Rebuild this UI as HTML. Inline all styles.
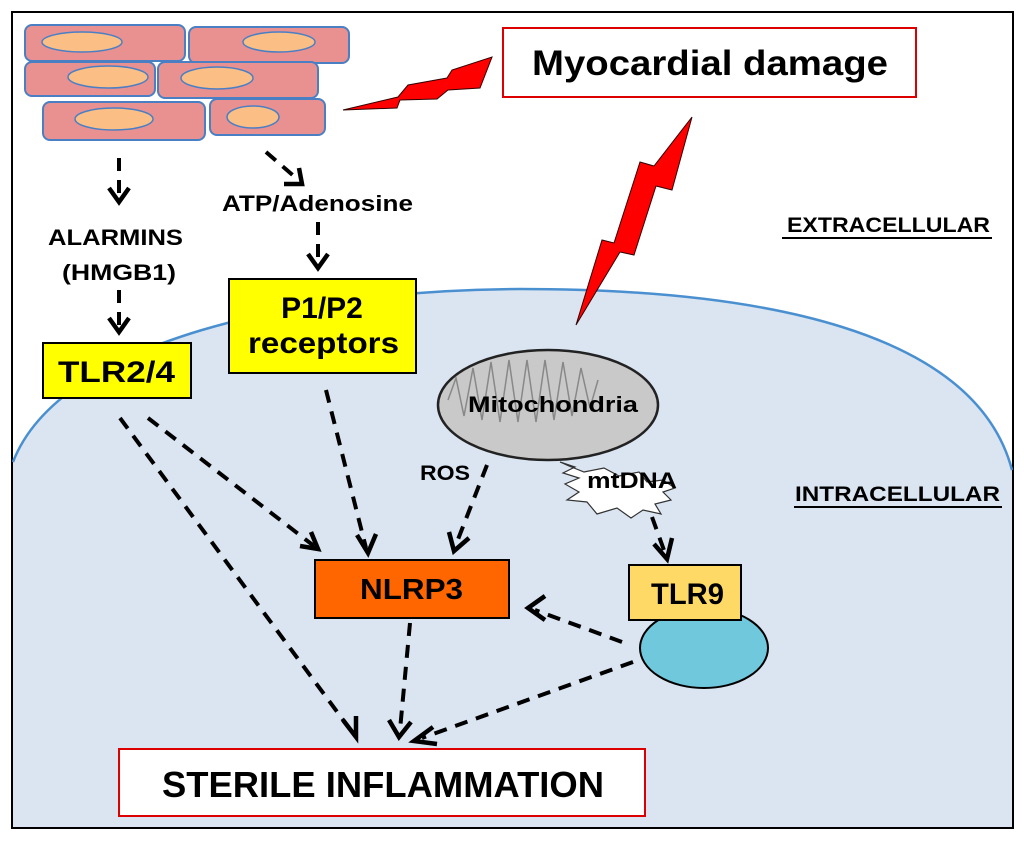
<!DOCTYPE html>
<html><head><meta charset="utf-8"><style>
body{margin:0;background:#fff;}
svg text{font-family:"Liberation Sans",sans-serif;font-weight:bold;}
</style></head><body>
<svg width="1024" height="840" viewBox="0 0 1024 840" xmlns="http://www.w3.org/2000/svg">
<rect x="12" y="12" width="1001" height="816" fill="#fff" stroke="#000" stroke-width="2"/>
<path d="M13,462 C60,340 300,290 520,289 C760,289 975,330 1012,470 L1012,827 L13,827 Z" fill="#dae5f1"/>
<path d="M13,462 C60,340 300,290 520,289 C760,289 975,330 1012,470" fill="none" stroke="#4a90d0" stroke-width="2.5"/>
<!-- muscle cells -->
<g fill="#e99190" stroke="#4a7fc4" stroke-width="2">
<rect x="25" y="25" width="160" height="36" rx="7"/>
<rect x="189" y="27" width="160" height="36" rx="7"/>
<rect x="25" y="62" width="130" height="34" rx="7"/>
<rect x="158" y="62" width="160" height="36" rx="7"/>
<rect x="43" y="102" width="162" height="38" rx="7"/>
<rect x="210" y="99" width="115" height="36" rx="7"/>
</g>
<g fill="#fbbf86" stroke="#4a7fc4" stroke-width="1.5">
<ellipse cx="82" cy="42" rx="40" ry="10"/>
<ellipse cx="279" cy="42" rx="36" ry="10"/>
<ellipse cx="108" cy="77" rx="40" ry="11"/>
<ellipse cx="217" cy="78" rx="36" ry="11"/>
<ellipse cx="114" cy="119" rx="39" ry="11"/>
<ellipse cx="253" cy="117" rx="26" ry="11"/>
</g>
<!-- bolts -->
<path d="M343,110 L398,97 L408,85 L447,78 L452,70 L492,57 L480,88 L448,90 L437,99 L400,100 L397,108 Z" fill="#f00" stroke="#300" stroke-width="1"/>
<path d="M692,117 L672,190 L656,186 L634,255 L620,252 L576,325 L602,240 L614,243 L640,162 L654,166 Z" fill="#f00" stroke="#300" stroke-width="1"/>
<!-- boxes -->
<rect x="503" y="28" width="413" height="69" fill="#fff" stroke="#d00" stroke-width="2"/>
<text x="532" y="75" font-size="35" textLength="356" lengthAdjust="spacingAndGlyphs">Myocardial damage</text>
<rect x="43" y="343" width="148" height="55" fill="#ffff00" stroke="#000" stroke-width="2"/>
<text x="58" y="382" font-size="30" textLength="117" lengthAdjust="spacingAndGlyphs">TLR2/4</text>
<rect x="229" y="279" width="187" height="94" fill="#ffff00" stroke="#000" stroke-width="2"/>
<text x="322" y="318" font-size="30" text-anchor="middle">P1/P2</text>
<text x="248" y="353" font-size="30" textLength="151" lengthAdjust="spacingAndGlyphs">receptors</text>
<ellipse cx="548" cy="405" rx="110" ry="55" fill="#c9c9c9" stroke="#222" stroke-width="2.5"/>
<path d="M448,400 l8,-22 8,38 9,-48 9,52 9,-58 9,60 9,-62 9,62 9,-62 9,62 9,-62 9,60 9,-58 9,54 9,-48 9,40 8,-28" fill="none" stroke="#888" stroke-width="1.5"/>
<text x="468" y="412" font-size="22" textLength="170" lengthAdjust="spacingAndGlyphs">Mitochondria</text>
<path d="M560,462 l15,5 -12,6 16,5 -14,6 14,8 -12,8 20,2 10,12 20,-6 14,10 12,-8 18,4 -6,-10 16,-4 -8,-8 12,-4 -12,-8 -16,2 -8,-10 -20,4 -15,-8 -20,4 -15,-6 Z" fill="#fff" stroke="#333" stroke-width="1.2"/>
<text x="587" y="488" font-size="22" textLength="90" lengthAdjust="spacingAndGlyphs">mtDNA</text>
<rect x="315" y="560" width="194" height="58" fill="#ff6600" stroke="#000" stroke-width="2"/>
<text x="360" y="599" font-size="29" textLength="103" lengthAdjust="spacingAndGlyphs">NLRP3</text>
<ellipse cx="704" cy="648" rx="64" ry="40" fill="#70c8dc" stroke="#000" stroke-width="2"/>
<rect x="629" y="565" width="112" height="55" fill="#ffd966" stroke="#000" stroke-width="2"/>
<text x="651" y="604" font-size="30" textLength="73" lengthAdjust="spacingAndGlyphs">TLR9</text>
<rect x="119" y="749" width="526" height="67" fill="#fff" stroke="#d00" stroke-width="2"/>
<text x="162" y="797" font-size="36" textLength="442" lengthAdjust="spacingAndGlyphs">STERILE INFLAMMATION</text>
<text x="48" y="245" font-size="22" textLength="135" lengthAdjust="spacingAndGlyphs">ALARMINS</text>
<text x="62" y="280" font-size="22" textLength="114" lengthAdjust="spacingAndGlyphs">(HMGB1)</text>
<text x="222" y="211" font-size="22" textLength="191" lengthAdjust="spacingAndGlyphs">ATP/Adenosine</text>
<text x="420" y="480" font-size="21" textLength="50" lengthAdjust="spacingAndGlyphs">ROS</text>
<text x="787" y="232" font-size="21" textLength="203" lengthAdjust="spacingAndGlyphs">EXTRACELLULAR</text>
<line x1="782" y1="238" x2="992" y2="238" stroke="#000" stroke-width="2"/>
<text x="795" y="501" font-size="21" textLength="205" lengthAdjust="spacingAndGlyphs">INTRACELLULAR</text>
<line x1="794" y1="507" x2="1002" y2="507" stroke="#000" stroke-width="2"/>
<!-- arrows -->
<g stroke="#000" stroke-width="4" fill="none" stroke-dasharray="13,9">
<line x1="119" y1="158" x2="119" y2="195"/>
<line x1="266" y1="152" x2="296" y2="178"/>
<line x1="318" y1="222" x2="318" y2="262"/>
<line x1="119" y1="290" x2="119" y2="325"/>
<line x1="120" y1="418" x2="352" y2="732"/>
<line x1="148" y1="418" x2="314" y2="546"/>
<line x1="326" y1="390" x2="366" y2="548"/>
<line x1="487" y1="465" x2="455" y2="547"/>
<line x1="410" y1="623" x2="400" y2="730"/>
<line x1="633" y1="662" x2="422" y2="738"/>
<line x1="622" y1="642" x2="535" y2="610"/>
<line x1="652" y1="517" x2="665" y2="553"/>
</g>
<g stroke="#000" stroke-width="4.5" fill="none" stroke-linejoin="miter">
<path d="M109,188 L119,202 L129,188"/>
<path d="M284,184 L302,184 L299,168"/>
<path d="M308,254 L318,268 L328,254"/>
<path d="M109,318 L119,332 L129,318"/>
<path d="M343,720 L356,737 L356,716"/>
<path d="M300,546 L318,549 L311,532"/>
<path d="M357,535 L368,553 L376,534"/>
<path d="M449,532 L454,551 L469,538"/>
<path d="M389,720 L399,737 L411,722"/>
<path d="M433,727 L414,741 L437,744"/>
<path d="M545,596 L528,608 L545,620"/>
<path d="M654,544 L667,559 L672,538"/>
</g>
</svg>
</body></html>
